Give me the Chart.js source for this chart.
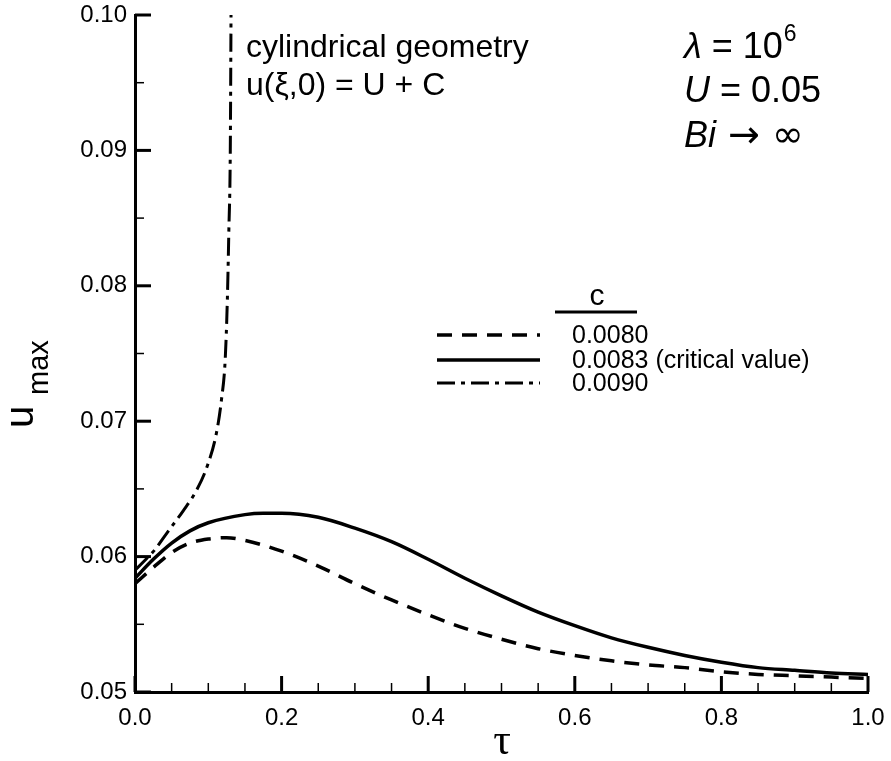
<!DOCTYPE html>
<html><head><meta charset="utf-8">
<script src="https://cdn.jsdelivr.net/npm/chart.js@4"></script>
<style>html,body{margin:0;padding:0;background:#fff}#wrap{width:891px;height:761px;position:relative}</style>
</head><body><div id="wrap"><canvas id="c"></canvas></div>
<script>
// ---- data ----
const tauDashed = [0, 0.025, 0.05, 0.075, 0.1, 0.125, 0.15, 0.2, 0.25, 0.3, 0.35, 0.4, 0.45, 0.5, 0.55, 0.6, 0.65, 0.7, 0.75, 0.8, 0.85, 0.9, 0.95, 1.0];
const uDashed   = [0.0580, 0.0592, 0.0603, 0.0610, 0.0613, 0.0614, 0.0612, 0.0604, 0.0593, 0.0580, 0.0568, 0.0557, 0.0547, 0.0539, 0.0532, 0.0527, 0.0523, 0.0520, 0.0518, 0.0515, 0.0513, 0.0512, 0.0511, 0.0510];
const tauSolid  = [0, 0.025, 0.05, 0.075, 0.1, 0.15, 0.175, 0.2, 0.25, 0.3, 0.35, 0.4, 0.45, 0.5, 0.55, 0.6, 0.65, 0.7, 0.75, 0.8, 0.85, 0.9, 0.95, 1.0];
const uSolid    = [0.0584, 0.0598, 0.0610, 0.0619, 0.0625, 0.0631, 0.0632, 0.0632, 0.0629, 0.0621, 0.0611, 0.0598, 0.0584, 0.0571, 0.0559, 0.0549, 0.0540, 0.0533, 0.0527, 0.0522, 0.0518, 0.0516, 0.0514, 0.0513];
const tauDashDot = [0, 0.015, 0.027, 0.043, 0.066, 0.084, 0.098, 0.111, 0.118, 0.123, 0.126, 0.128, 0.130, 0.131];
const uDashDot   = [0.0590, 0.0598, 0.0605, 0.0617, 0.0634, 0.0649, 0.0666, 0.0691, 0.0716, 0.0745, 0.0790, 0.0840, 0.0900, 0.1000];
const seriesLabels = ['0.0080', '0.0083 (critical value)', '0.0090'];
const legendTitle = 'c';
const xMin = 0, xMax = 1.0, xStep = 0.2, xMinor = 0.05;
const yMin = 0.05, yMax = 0.10, yStep = 0.01, yMinor = 0.005;

const pts = (xs, ys) => xs.map((x, i) => ({x, y: ys[i]}));
const SANS = "'Liberation Sans', Arial, sans-serif";

const decor = {
  id: 'decor',
  afterDraw(chart) {
    const {ctx, chartArea: a, scales: {x, y}} = chart;
    ctx.save();
    ctx.strokeStyle = '#000'; ctx.fillStyle = '#000'; ctx.lineCap = 'butt';
    // inward ticks
    const nx = Math.round((xMax - xMin) / xMinor);
    for (let i = 0; i <= nx; i++) {
      const v = xMin + i * xMinor, px = x.getPixelForValue(v);
      const major = i % Math.round(xStep / xMinor) === 0;
      ctx.lineWidth = major ? 3 : 1.5;
      ctx.beginPath(); ctx.moveTo(px, a.bottom); ctx.lineTo(px, a.bottom - (major ? 16 : 9)); ctx.stroke();
    }
    const ny = Math.round((yMax - yMin) / yMinor);
    for (let i = 0; i <= ny; i++) {
      const v = yMin + i * yMinor, py = y.getPixelForValue(v);
      const major = i % Math.round(yStep / yMinor) === 0;
      ctx.lineWidth = major ? 3 : 1.5;
      ctx.beginPath(); ctx.moveTo(a.left, py); ctx.lineTo(a.left + (major ? 16 : 9), py); ctx.stroke();
    }
    // annotations
    ctx.textBaseline = 'alphabetic'; ctx.textAlign = 'left';
    ctx.font = '32px ' + SANS;
    ctx.fillText('cylindrical geometry', 246, 57);
    ctx.fillText('u(\u03BE,0) = U + C', 246, 95);
    // right block
    let bx = 684;
    ctx.font = 'italic 36px ' + SANS;
    ctx.fillText('\u03BB', bx, 58);
    let w = ctx.measureText('\u03BB').width;
    ctx.font = '36px ' + SANS;
    ctx.fillText(' = 10', bx + w, 58);
    w += ctx.measureText(' = 10').width;
    ctx.font = '23px ' + SANS;
    ctx.fillText('6', bx + w + 1, 41);
    ctx.font = 'italic 36px ' + SANS;
    ctx.fillText('U', bx, 102);
    w = ctx.measureText('U').width;
    ctx.font = '36px ' + SANS;
    ctx.fillText(' = 0.05', bx + w, 102);
    ctx.font = 'italic 36px ' + SANS;
    ctx.fillText('Bi', bx, 147);
    w = ctx.measureText('Bi').width;
    ctx.font = "38px 'DejaVu Sans', " + SANS;
    ctx.fillText(' \u2192 \u221E', bx + w, 147);
    // legend
    ctx.font = '30px ' + SANS; ctx.textAlign = 'center';
    ctx.fillText(legendTitle, 597, 305);
    ctx.lineWidth = 3;
    ctx.beginPath(); ctx.moveTo(555, 312); ctx.lineTo(637, 312); ctx.stroke();
    const rowsY = [335, 360, 383];
    ctx.textAlign = 'left'; ctx.textBaseline = 'middle'; ctx.font = '25px ' + SANS;
    chart.data.datasets.forEach((ds, i) => {
      ctx.lineWidth = ds.borderWidth; ctx.setLineDash(ds.borderDash || []);
      ctx.beginPath(); ctx.moveTo(437, rowsY[i]); ctx.lineTo(540, rowsY[i]); ctx.stroke();
      ctx.setLineDash([]);
      ctx.fillText(ds.label, 572, rowsY[i] + 1);
    });
    // axis titles
    ctx.textBaseline = 'alphabetic'; ctx.textAlign = 'center';
    ctx.font = "44px 'Liberation Serif', 'Times New Roman', serif";
    ctx.fillText('\u03C4', 502, 754);
    ctx.save();
    ctx.translate(33, 428); ctx.rotate(-Math.PI / 2);
    ctx.textAlign = 'left';
    ctx.font = '40px ' + SANS;
    ctx.fillText('u', 0, 0);
    ctx.font = '29px ' + SANS;
    ctx.fillText('max', 33, 15);
    ctx.restore();
    ctx.restore();
  }
};

new Chart(document.getElementById('c'), {
  type: 'scatter',
  data: {
    datasets: [
      {label: seriesLabels[0], data: pts(tauDashed, uDashed), showLine: true, borderColor: '#000', borderWidth: 3.5, borderDash: [15, 10], pointRadius: 0, cubicInterpolationMode: 'monotone', fill: false},
      {label: seriesLabels[1], data: pts(tauSolid, uSolid), showLine: true, borderColor: '#000', borderWidth: 3.5, pointRadius: 0, cubicInterpolationMode: 'monotone', fill: false},
      {label: seriesLabels[2], data: pts(tauDashDot, uDashDot), showLine: true, borderColor: '#000', borderWidth: 3, borderDash: [18, 6, 4, 6], pointRadius: 0, cubicInterpolationMode: 'monotone', fill: false}
    ]
  },
  options: {
    responsive: true, maintainAspectRatio: false, animation: false,
    layout: {padding: {left: 0, right: 23, top: 15, bottom: 0}},
    plugins: {legend: {display: false}, tooltip: {enabled: false}},
    scales: {
      x: {type: 'linear', min: xMin, max: xMax,
          afterFit: s => { s.height = 69; s.paddingLeft = 0; s.paddingRight = 0; },
          grid: {display: false, drawTicks: false},
          border: {display: true, color: '#000', width: 3},
          ticks: {stepSize: xStep, padding: 12, color: '#000', font: {family: SANS, size: 24}, callback: v => v.toFixed(1)}},
      y: {type: 'linear', min: yMin, max: yMax,
          afterFit: s => { s.width = 135; s.paddingTop = 0; s.paddingBottom = 0; },
          grid: {display: false, drawTicks: false},
          border: {display: true, color: '#000', width: 3},
          ticks: {stepSize: yStep, padding: 8, color: '#000', font: {family: SANS, size: 24}, callback: v => v.toFixed(2)}}
    }
  },
  plugins: [decor]
});
</script>
</body></html>
